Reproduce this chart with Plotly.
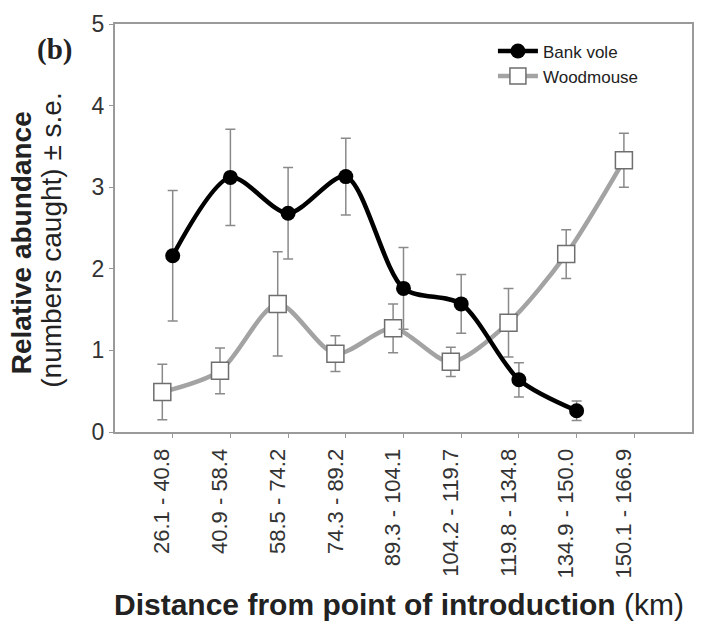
import plotly.graph_objects as go

categories = ["26.1 - 40.8", "40.9 - 58.4", "58.5 - 74.2", "74.3 - 89.2", "89.3 - 104.1",
              "104.2 - 119.7", "119.8 - 134.8", "134.9 - 150.0", "150.1 - 166.9"]
bank_vole = [2.16, 3.12, 2.68, 3.13, 1.76, 1.57, 0.64, 0.26]
bank_vole_se = [0.80, 0.59, 0.56, 0.47, 0.50, 0.36, 0.21, 0.12]
woodmouse = [0.49, 0.75, 1.57, 0.96, 1.27, 0.86, 1.34, 2.18, 3.33]
woodmouse_se = [0.34, 0.28, 0.64, 0.22, 0.30, 0.18, 0.42, 0.30, 0.33]

shift = -0.18
x_bv = [i + 1 for i in range(len(bank_vole))]
x_wm = [i + 1 + shift for i in range(len(woodmouse))]
x_lab = [i + 1 + shift for i in range(len(categories))]

fig = go.Figure()
fig.add_trace(go.Scatter(
    x=x_wm, y=woodmouse, name="Woodmouse", mode="lines+markers",
    line=dict(color="#a3a3a3", width=4.5, shape="spline", smoothing=0.8),
    marker=dict(symbol="square", size=17, color="white", line=dict(color="#6e6e6e", width=1.5)),
    error_y=dict(type="data", array=woodmouse_se, color="#8a8a8a", thickness=1.5, width=5),
    legendrank=2,
))
fig.add_trace(go.Scatter(
    x=x_bv, y=bank_vole, name="Bank vole", mode="lines+markers",
    line=dict(color="black", width=4.5, shape="spline", smoothing=0.8),
    marker=dict(symbol="circle", size=15, color="black"),
    error_y=dict(type="data", array=bank_vole_se, color="#8a8a8a", thickness=1.5, width=5),
    legendrank=1,
))
# dummy trace to activate label axis
fig.add_trace(go.Scatter(x=[x_lab[0]], y=[None], xaxis="x2", showlegend=False, hoverinfo="skip"))

fig.update_layout(
    width=705, height=636,
    margin=dict(l=115, r=11, t=15, b=204),
    plot_bgcolor="white", paper_bgcolor="white",
    font=dict(family="Arial, Liberation Sans, sans-serif", color="#333333"),
    showlegend=True,
    legend=dict(x=0.655, y=0.977, xanchor="left", yanchor="top",
                bgcolor="rgba(0,0,0,0)", font=dict(size=17, color="#222"),
                tracegroupgap=0, itemwidth=40),
    xaxis=dict(range=[0, 10], tickmode="array", tickvals=list(range(1, 10)),
               ticktext=[""] * 9, ticks="outside", ticklen=4, tickcolor="#999",
               showline=True, linecolor="#9a9a9a", linewidth=2, mirror=True,
               showgrid=False, zeroline=False),
    xaxis2=dict(range=[0, 10], overlaying="x", side="bottom", tickmode="array",
                tickvals=x_lab, ticktext=categories, tickangle=-90,
                ticks="outside", ticklen=7, tickcolor="rgba(0,0,0,0)",
                tickfont=dict(size=22, color="#333"),
                showline=False, showgrid=False, zeroline=False),
    yaxis=dict(range=[0, 5], dtick=1, ticks="outside", ticklen=4, tickcolor="#999",
               tickfont=dict(size=23, color="#333"),
               showline=True, linecolor="#9a9a9a", linewidth=2, mirror=True,
               showgrid=False, zeroline=False),
    annotations=[
        dict(text="<b>Relative abundance</b>", xref="paper", yref="paper",
             x=-0.163, y=0.465, xanchor="center", yanchor="middle", textangle=-90,
             showarrow=False, font=dict(size=28, color="#222")),
        dict(text="(numbers caught) ± s.e.", xref="paper", yref="paper",
             x=-0.11, y=0.47, xanchor="center", yanchor="middle", textangle=-90,
             showarrow=False, font=dict(size=28, color="#222")),
        dict(text="<b>Distance from point of introduction</b> (km)", xref="paper", yref="paper",
             x=0.492, y=-0.422, xanchor="center", yanchor="middle",
             showarrow=False, font=dict(size=30, color="#222")),
        dict(text="<b>(b)</b>", xref="paper", yref="paper",
             x=-0.105, y=0.937, xanchor="center", yanchor="middle",
             showarrow=False, font=dict(size=29, color="#222",
                                        family="Liberation Serif, Times New Roman, serif")),
    ],
)

fig.write_html("out.html")
